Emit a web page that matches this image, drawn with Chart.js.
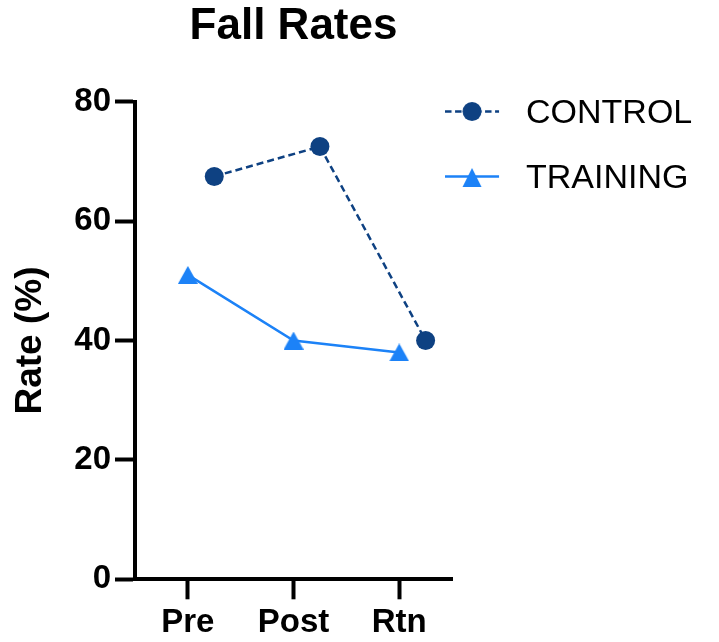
<!DOCTYPE html>
<html>
<head>
<meta charset="utf-8">
<script src="https://cdn.jsdelivr.net/npm/chart.js@4.4.1/dist/chart.umd.min.js"></script>
<style>
  html, body { margin: 0; padding: 0; background: #ffffff; }
  #wrap { width: 719px; height: 642px; }
</style>
</head>
<body>
<div id="wrap"><canvas id="chart" width="719" height="642"></canvas></div>
<script>
// ---- data ----
const categories = ['Pre', 'Post', 'Rtn'];
const seriesNames = ['CONTROL', 'TRAINING'];
const controlRates = [67.5, 72.5, 40];
const trainingRates = [51, 40, 38];
const yTickValues = [0, 20, 40, 60, 80];

// ---- styles ----
const FONT = '"Liberation Sans", Arial, Helvetica, sans-serif';
const NAVY = '#0e4182';
const BLUE = '#1c82f7';
const STAGGER = 0.25; // horizontal offset of the CONTROL series (Prism-style stagger)

function makeCanvas(w, h) {
  const c = document.createElement('canvas');
  c.width = w; c.height = h;
  return c;
}

// triangle marker for the data points (bounding box centred on the value)
const triMarker = (() => {
  const c = makeCanvas(20, 18);
  const g = c.getContext('2d');
  g.fillStyle = BLUE;
  g.beginPath();
  g.moveTo(10, 0); g.lineTo(20, 18); g.lineTo(0, 18); g.closePath();
  g.fill();
  return c;
})();

// legend symbols: line + marker (drawn in the left part of a wider image)
const LEG_W = 102;
const legendControl = (() => {
  const c = makeCanvas(LEG_W, 30);
  const g = c.getContext('2d');
  const y = 12.5;
  g.strokeStyle = NAVY; g.lineWidth = 2.5;
  g.setLineDash([6.5, 3.5]);
  g.beginPath(); g.moveTo(0, y); g.lineTo(54, y); g.stroke();
  g.setLineDash([]);
  g.fillStyle = NAVY;
  g.beginPath(); g.arc(27, y, 9.5, 0, Math.PI * 2); g.fill();
  return c;
})();
const legendTraining = (() => {
  const c = makeCanvas(LEG_W, 30);
  const g = c.getContext('2d');
  const y = 12.5;
  g.strokeStyle = BLUE; g.lineWidth = 2.5;
  g.beginPath(); g.moveTo(0, y); g.lineTo(54, y); g.stroke();
  g.fillStyle = BLUE;
  g.beginPath(); g.moveTo(27, y - 8.5); g.lineTo(36.5, y + 10.5); g.lineTo(17.5, y + 10.5); g.closePath(); g.fill();
  return c;
})();
const legendSymbols = [legendControl, legendTraining];

// let the legend text run past the legend box (no clipping)
const legendNoClip = {
  id: 'legendNoClip',
  beforeDraw(chart) {
    const lg = chart.legend;
    if (lg && !lg.__noclip) {
      lg.draw = function () { if (this.options.display) this._draw(); };
      lg.__noclip = true;
    }
  }
};

const ctx = document.getElementById('chart').getContext('2d');
new Chart(ctx, {
  type: 'line',
  plugins: [legendNoClip],
  data: {
    datasets: [
      {
        label: seriesNames[0],
        data: controlRates.map((v, i) => ({ x: i + 1 + STAGGER, y: v })),
        borderColor: NAVY,
        backgroundColor: NAVY,
        borderWidth: 2.5,
        borderDash: [7, 4],
        pointStyle: 'circle',
        pointRadius: 9.5,
        pointHoverRadius: 9.5,
        pointBorderWidth: 0,
        pointBackgroundColor: NAVY,
        tension: 0,
        fill: false
      },
      {
        label: seriesNames[1],
        data: trainingRates.map((v, i) => ({ x: i + 1, y: v })),
        borderColor: BLUE,
        backgroundColor: BLUE,
        borderWidth: 2.5,
        pointStyle: triMarker,
        pointRadius: 10,
        pointHoverRadius: 10,
        pointBorderWidth: 0,
        tension: 0,
        fill: false
      }
    ]
  },
  options: {
    responsive: false,
    maintainAspectRatio: false,
    devicePixelRatio: 1,
    animation: false,
    events: [],
    layout: { padding: { top: 0, right: 116.3, bottom: -3.7, left: 0 } },
    scales: {
      x: {
        type: 'linear',
        min: 0.5,
        max: 3.5,
        afterBuildTicks: (s) => { s.ticks = categories.map((c, i) => ({ value: i + 1 })); },
        ticks: {
          callback: (v) => categories[Math.round(v) - 1],
          font: { family: FONT, size: 33, weight: 'bold', lineHeight: 1.285 },
          color: '#000',
          padding: 2,
          maxRotation: 0,
          autoSkip: false
        },
        grid: {
          display: true,
          drawOnChartArea: false,
          drawTicks: true,
          tickLength: 20,
          tickWidth: 4,
          tickColor: '#000',
          color: '#000'
        },
        border: { display: true, width: 4, color: '#000' }
      },
      y: {
        type: 'linear',
        min: 0,
        max: 80,
        afterBuildTicks: (s) => { s.ticks = yTickValues.map(v => ({ value: v })); },
        ticks: {
          font: { family: FONT, size: 33, weight: 'bold' },
          color: '#000',
          padding: 4
        },
        grid: {
          display: true,
          drawOnChartArea: false,
          drawTicks: true,
          tickLength: 20,
          tickWidth: 4,
          tickColor: '#000',
          color: '#000'
        },
        border: { display: true, width: 4, color: '#000' },
        title: {
          display: true,
          text: 'Rate (%)',
          color: '#000',
          font: { family: FONT, size: 37, weight: 'bold' },
          padding: { top: 8.5, bottom: 17.4 }
        }
      }
    },
    plugins: {
      title: {
        display: true,
        text: 'Fall Rates',
        color: '#000',
        fullSize: false,
        font: { family: FONT, size: 44, weight: 'bold' },
        padding: { top: 0, bottom: 49 }
      },
      legend: {
        display: true,
        position: 'right',
        align: 'start',
        title: {
          display: true,
          text: ' ',
          color: 'rgba(0,0,0,0)',
          font: { family: FONT, size: 10 },
          padding: { top: 54, bottom: 0 }
        },
        labels: {
          usePointStyle: true,
          pointStyleWidth: 26,
          padding: 31,
          color: '#000',
          font: { family: FONT, size: 34 },
          generateLabels: (chart) => chart.data.datasets.map((ds, i) => ({
            text: ds.label,
            fillStyle: ds.borderColor,
            strokeStyle: ds.borderColor,
            lineWidth: 0,
            hidden: false,
            pointStyle: legendSymbols[i],
            datasetIndex: i,
            fontColor: '#000'
          }))
        }
      },
      tooltip: { enabled: false }
    }
  }
});
</script>
</body>
</html>
